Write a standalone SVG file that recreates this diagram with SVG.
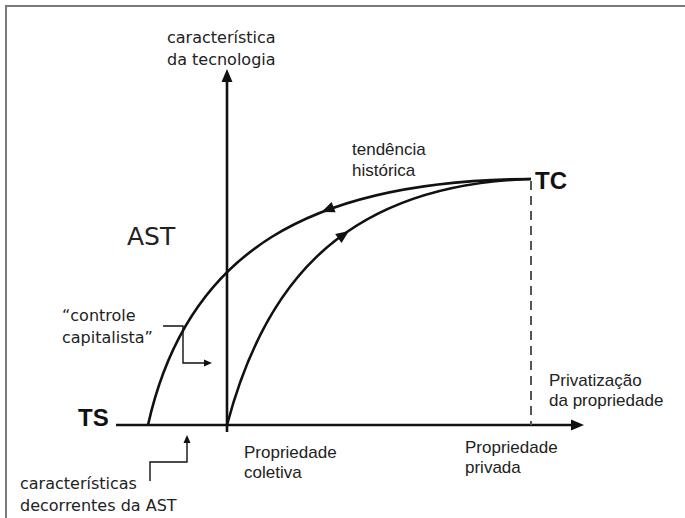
<svg xmlns="http://www.w3.org/2000/svg" width="685" height="518" viewBox="0 0 685 518">
<style>
.g{font-family:"DejaVu Sans","Open Sans",sans-serif;font-size:16px;fill:#222}
.h{font-family:"Liberation Sans",Arial,sans-serif;font-size:17px;fill:#222}
.b{font-family:"Liberation Sans",Arial,sans-serif;font-size:24px;font-weight:bold;fill:#111}
.ax{stroke:#111;stroke-width:2.6;fill:none}
.cv{stroke:#111;stroke-width:2.6;fill:none}
.th{stroke:#111;stroke-width:1.4;fill:none}
.ah{fill:#111}
</style>
<rect width="685" height="518" fill="#fff"/>
<path d="M6,518 V6 H685" stroke="#7a7a7a" stroke-width="2" fill="none"/>
<g id="connectors">
  <line class="ax" x1="227" y1="80" x2="227" y2="432"/>
  <polygon class="ah" points="227,69 221.5,82 232.5,82"/>
  <line class="ax" x1="116" y1="425" x2="573" y2="425"/>
  <polygon class="ah" points="584,425 571,419.5 571,430.5"/>
  <line x1="531" y1="181" x2="531" y2="425" stroke="#555" stroke-width="2" stroke-dasharray="9,6"/>
  <path class="cv" d="M148,425 C187,250 312,180 531,179"/>
  <path class="cv" d="M227,425 C260,300 330,185 531,179"/>
  <polygon class="ah" points="0,0 13,-5.5 13,5.5" transform="translate(321.5,212) rotate(-21.5)"/>
  <polygon class="ah" points="0,0 -13,-5.5 -13,5.5" transform="translate(349,231) rotate(-35)"/>
  <polyline class="th" points="163,326 183,326 183,363 205,363"/>
  <polygon class="ah" points="212,363 204,359.5 204,366.5"/>
  <polyline class="th" points="150,481 150,462 187,462 187,442"/>
  <polygon class="ah" points="187,435 183.5,443 190.5,443"/>
</g>
<g id="node-y-label"><text class="g" x="167" y="43">característica</text><text class="g" x="167" y="65">da tecnologia</text></g>
<g id="node-AST"><text class="g" x="127" y="245" style="font-size:25px">AST</text></g>
<g id="node-tendencia"><text class="h" x="352" y="155">tendência</text><text class="h" x="352" y="176">histórica</text></g>
<g id="node-TC"><text class="b" x="535" y="189">TC</text></g>
<g id="node-controle"><text class="g" x="62" y="321">“controle</text><text class="g" x="62" y="343">capitalista”</text></g>
<g id="node-TS"><text class="b" x="78" y="426">TS</text></g>
<g id="node-privatizacao"><text class="h" x="549" y="386">Privatização</text><text class="h" x="549" y="406">da propriedade</text></g>
<g id="node-coletiva"><text class="h" x="244" y="458">Propriedade</text><text class="h" x="244" y="478">coletiva</text></g>
<g id="node-privada"><text class="h" x="465" y="453">Propriedade</text><text class="h" x="465" y="473">privada</text></g>
<g id="node-caracteristicas"><text class="g" x="20" y="489">características</text><text class="g" x="20" y="511">decorrentes da AST</text></g>
</svg>
